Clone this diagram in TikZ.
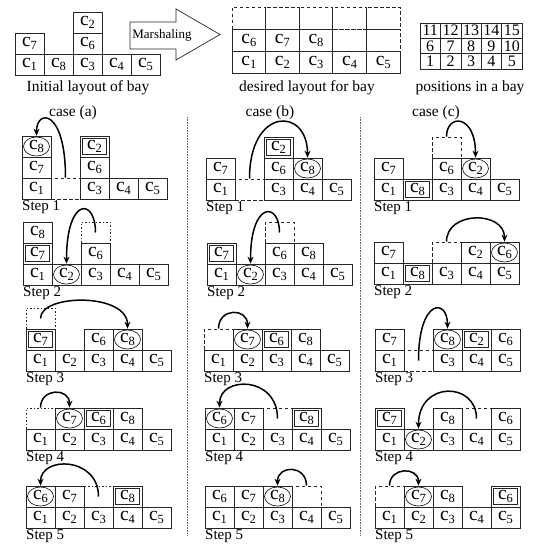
\documentclass[tikz,border=0pt]{standalone}
\usepackage{fontspec}
\setmainfont{Liberation Serif}
\usetikzlibrary{arrows.meta}
\newcommand\cc[1]{c\raisebox{-3pt}{\fontsize{12.5}{12.5}\selectfont #1}}
\newcommand\cw{29}
\newcommand\chh{21}
\tikzset{
 cellbox/.style={draw=black!85, line width=0.7pt, minimum width=\cw pt, minimum height=\chh pt, inner sep=0pt, font=\fontsize{19.5}{19.5}\selectfont},
 circ/.style={path picture={\draw[line width=0.7pt] (path picture bounding box.center) ellipse (13pt and 9.5pt);}},
 dbl/.style={path picture={\draw[line width=0.9pt] ([shift={(2.5pt,2.5pt)}]path picture bounding box.south west) rectangle ([shift={(-2.5pt,-2.5pt)}]path picture bounding box.north east);}},
 dsh/.style={dash pattern=on 3.5pt off 2.5pt},
 dot/.style={dash pattern=on 1.5pt off 2pt},
 posbox/.style={draw=black!85, line width=0.6pt, minimum width=\cw pt, minimum height=\chh pt, inner sep=0pt, font=\fontsize{16}{16}\selectfont},
 arr/.style={line width=1.5pt, -{Stealth[length=7pt,width=6pt]}},
 steplbl/.style={anchor=north west, inner sep=0pt, font=\fontsize{15}{15}\selectfont},
 captxt/.style={inner sep=0pt, font=\fontsize{15.5}{15.5}\selectfont},
 sep/.style={draw=black!60, line width=0.8pt, dash pattern=on 0.8pt off 0.8pt}
}
\newcommand\cell[4][]{\node[cellbox,#1] (c#2#3) at ({(#2-0.5)*\cw},{(#3-0.5)*\chh}) {#4};}
\newcommand\pcell[3]{\node[posbox] (p#1#2) at ({(#1-0.5)*\cw},{(#2-0.5)*\chh}) {#3};}
\newcommand\mv[4]{\draw[arr] (#1) .. controls +(0,#2) and +(0,#4) .. (#3);}
\newcommand\steplabel[1]{\node[steplbl] (lbl) at (0,-1) {Step #1};}
\begin{document}
\begin{tikzpicture}[x=1pt,y=1pt]
\useasboundingbox (0,0) rectangle (535,-544);
% initial layout
\begin{scope}[shift={(15,-75)}, name prefix=init-]
\cell{1}{1}{\cc1} \cell{1}{2}{\cc7}
\cell{2}{1}{\cc8}
\cell{3}{1}{\cc3} \cell{3}{2}{\cc6} \cell{3}{3}{\cc2}
\cell{4}{1}{\cc4} \cell{5}{1}{\cc5}
\end{scope}
\node[captxt] (initcap) at (88,-88) {Initial layout of bay};
% marshaling arrow
\draw[line width=0.7pt, draw=black!85] (130,-22) -- (176,-22) -- (176,-9) -- (220,-34.5) -- (176,-60) -- (176,-49) -- (130,-49) -- cycle;
\node[inner sep=0pt, font=\fontsize{13}{13}\selectfont] (marsh) at (162,-35) {Marshaling};
% desired layout
\begin{scope}[shift={(232,-73)}, name prefix=des-]
\def\cw{33.6}\def\chh{22}
\cell{1}{1}{\cc1} \cell{2}{1}{\cc2} \cell{3}{1}{\cc3} \cell{4}{1}{\cc4} \cell{5}{1}{\cc5}
\cell{1}{2}{\cc6} \cell{2}{2}{\cc7} \cell{3}{2}{\cc8} \cell[dsh]{4}{2}{} \cell[dsh]{5}{2}{}
\cell[dsh]{1}{3}{} \cell[dsh]{2}{3}{} \cell[dsh]{3}{3}{} \cell[dsh]{4}{3}{} \cell[dsh]{5}{3}{}
\end{scope}
\node[captxt] (descap) at (307,-88) {desired layout for bay};
% positions
\begin{scope}[shift={(420,-69)}, name prefix=pos-]
\def\cw{20.4}\def\chh{15.33}
\pcell{1}{1}{1} \pcell{2}{1}{2} \pcell{3}{1}{3} \pcell{4}{1}{4} \pcell{5}{1}{5}
\pcell{1}{2}{6} \pcell{2}{2}{7} \pcell{3}{2}{8} \pcell{4}{2}{9} \pcell{5}{2}{10}
\pcell{1}{3}{11} \pcell{2}{3}{12} \pcell{3}{3}{13} \pcell{4}{3}{14} \pcell{5}{3}{15}
\end{scope}
\node[captxt] (poscap) at (470,-88) {positions in a bay};
% case labels
\node[captxt] (casea) at (73,-113) {case (a)};
\node[captxt] (caseb) at (270,-113) {case (b)};
\node[captxt] (casec) at (436,-113) {case (c)};
\draw[sep] (187,-117) -- (187,-535);
\draw[sep] (360,-117) -- (360,-535);
% ---------- case (a)
\begin{scope}[shift={(22,-199)}, name prefix=a1-]
\cell{1}{1}{\cc1} \cell{1}{2}{\cc7} \cell[circ]{1}{3}{\cc8}
\cell[dsh]{2}{1}{}
\cell{3}{1}{\cc3} \cell{3}{2}{\cc6} \cell[dbl]{3}{3}{\cc2}
\cell{4}{1}{\cc4} \cell{5}{1}{\cc5}
\mv{c21.north}{69}{c13.north}{27}
\steplabel{1}
\end{scope}
\begin{scope}[shift={(23,-285)}, name prefix=a2-]
\cell{1}{1}{\cc1} \cell[dbl]{1}{2}{\cc7} \cell{1}{3}{\cc8}
\cell[circ]{2}{1}{\cc2}
\cell{3}{1}{\cc3} \cell{3}{2}{\cc6} \cell[dot]{3}{3}{}
\cell{4}{1}{\cc4} \cell{5}{1}{\cc5}
\mv{c33.center}{35}{c21.north}{67}
\steplabel{2}
\end{scope}
\begin{scope}[shift={(26,-371)}, name prefix=a3-]
\cell{1}{1}{\cc1} \cell[dbl]{1}{2}{\cc7} \cell[dot]{1}{3}{}
\cell{2}{1}{\cc2}
\cell{3}{1}{\cc3} \cell{3}{2}{\cc6}
\cell{4}{1}{\cc4} \cell[circ]{4}{2}{\cc8}
\cell{5}{1}{\cc5}
\mv{c13.center}{25}{c42.north}{36}
\steplabel{3}
\end{scope}
\begin{scope}[shift={(26,-450)}, name prefix=a4-]
\cell{1}{1}{\cc1} \cell[dot]{1}{2}{}
\cell{2}{1}{\cc2} \cell[circ]{2}{2}{\cc7}
\cell{3}{1}{\cc3} \cell[dbl]{3}{2}{\cc6}
\cell{4}{1}{\cc4} \cell{4}{2}{\cc8}
\cell{5}{1}{\cc5}
\mv{c12.north}{20}{c22.north}{20}
\steplabel{4}
\end{scope}
\begin{scope}[shift={(26,-528)}, name prefix=a5-]
\cell{1}{1}{\cc1} \cell[circ]{1}{2}{\cc6}
\cell{2}{1}{\cc2} \cell{2}{2}{\cc7}
\cell{3}{1}{\cc3} \cell[dot]{3}{2}{}
\cell{4}{1}{\cc4} \cell[dbl]{4}{2}{\cc8}
\cell{5}{1}{\cc5}
\mv{c32.center}{40}{c12.north}{30}
\steplabel{5}
\end{scope}
% ---------- case (b)
\begin{scope}[shift={(206,-200)}, name prefix=b1-]
\cell{1}{1}{\cc1} \cell{1}{2}{\cc7}
\cell[dsh]{2}{1}{}
\cell{3}{1}{\cc3} \cell{3}{2}{\cc6} \cell[dbl]{3}{3}{\cc2}
\cell{4}{1}{\cc4} \cell[circ]{4}{2}{\cc8}
\cell{5}{1}{\cc5}
\mv{c21.north}{72}{c42.north}{51}
\steplabel{1}
\end{scope}
\begin{scope}[shift={(207,-285)}, name prefix=b2-]
\cell{1}{1}{\cc1} \cell[dbl]{1}{2}{\cc7}
\cell[circ]{2}{1}{\cc2}
\cell{3}{1}{\cc3} \cell{3}{2}{\cc6} \cell[dsh]{3}{3}{}
\cell{4}{1}{\cc4} \cell{4}{2}{\cc8}
\cell{5}{1}{\cc5}
\mv{c33.center}{31}{c21.north}{63}
\steplabel{2}
\end{scope}
\begin{scope}[shift={(204,-371)}, name prefix=b3-]
\cell{1}{1}{\cc1} \cell[dsh]{1}{2}{}
\cell{2}{1}{\cc2} \cell[circ]{2}{2}{\cc7}
\cell{3}{1}{\cc3} \cell[dbl]{3}{2}{\cc6}
\cell{4}{1}{\cc4} \cell{4}{2}{\cc8}
\cell{5}{1}{\cc5}
\mv{c12.north}{21}{c22.north}{21}
\steplabel{3}
\end{scope}
\begin{scope}[shift={(205,-450)}, name prefix=b4-]
\cell{1}{1}{\cc1} \cell[circ]{1}{2}{\cc6}
\cell{2}{1}{\cc2} \cell{2}{2}{\cc7}
\cell{3}{1}{\cc3} \cell[dsh]{3}{2}{}
\cell{4}{1}{\cc4} \cell[dbl]{4}{2}{\cc8}
\cell{5}{1}{\cc5}
\mv{c32.center}{43}{c12.north}{32}
\steplabel{4}
\end{scope}
\begin{scope}[shift={(205,-528)}, name prefix=b5-]
\cell{1}{1}{\cc1} \cell{1}{2}{\cc6}
\cell{2}{1}{\cc2} \cell{2}{2}{\cc7}
\cell{3}{1}{\cc3} \cell[circ]{3}{2}{\cc8}
\cell{4}{1}{\cc4} \cell[dsh]{4}{2}{}
\cell{5}{1}{\cc5}
\mv{c42.north}{21}{c32.north}{21}
\steplabel{5}
\end{scope}
% ---------- case (c)
\begin{scope}[shift={(374,-200)}, name prefix=c1-]
\cell{1}{1}{\cc1} \cell{1}{2}{\cc7}
\cell[dbl]{2}{1}{\cc8}
\cell{3}{1}{\cc3} \cell{3}{2}{\cc6} \cell[dsh]{3}{3}{}
\cell{4}{1}{\cc4} \cell[circ]{4}{2}{\cc2}
\cell{5}{1}{\cc5}
\mv{c33.north}{23}{c42.north}{44}
\steplabel{1}
\end{scope}
\begin{scope}[shift={(374,-284)}, name prefix=c2-]
\cell{1}{1}{\cc1} \cell{1}{2}{\cc7}
\cell[dbl]{2}{1}{\cc8}
\cell{3}{1}{\cc3} \cell[dsh]{3}{2}{}
\cell{4}{1}{\cc4} \cell{4}{2}{\cc2}
\cell{5}{1}{\cc5} \cell[circ]{5}{2}{\cc6}
\mv{c32.north}{31}{c52.north}{31}
\steplabel{2}
\end{scope}
\begin{scope}[shift={(375,-371)}, name prefix=c3-]
\cell{1}{1}{\cc1} \cell{1}{2}{\cc7}
\cell[dsh]{2}{1}{}
\cell{3}{1}{\cc3} \cell[circ]{3}{2}{\cc8}
\cell{4}{1}{\cc4} \cell[dbl]{4}{2}{\cc2}
\cell{5}{1}{\cc5} \cell{5}{2}{\cc6}
\mv{c21.center}{62}{c32.north}{31}
\steplabel{3}
\end{scope}
\begin{scope}[shift={(375,-450)}, name prefix=c4-]
\cell{1}{1}{\cc1} \cell[dbl]{1}{2}{\cc7}
\cell[circ]{2}{1}{\cc2}
\cell{3}{1}{\cc3} \cell{3}{2}{\cc8}
\cell{4}{1}{\cc4} \cell[dsh]{4}{2}{}
\cell{5}{1}{\cc5} \cell{5}{2}{\cc6}
\mv{c42.center}{37}{c21.north}{48}
\steplabel{4}
\end{scope}
\begin{scope}[shift={(375,-528)}, name prefix=c5-]
\cell{1}{1}{\cc1} \cell[dsh]{1}{2}{}
\cell{2}{1}{\cc2} \cell[circ]{2}{2}{\cc7}
\cell{3}{1}{\cc3} \cell{3}{2}{\cc8}
\cell{4}{1}{\cc4}
\cell{5}{1}{\cc5} \cell[dbl]{5}{2}{\cc6}
\mv{c12.north}{19}{c22.north}{19}
\steplabel{5}
\end{scope}
\end{tikzpicture}
\end{document}
